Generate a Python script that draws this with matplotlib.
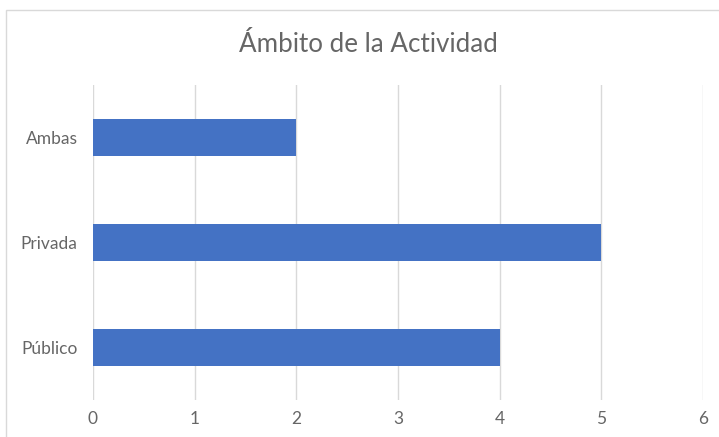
import matplotlib.pyplot as plt
from matplotlib.patches import Rectangle

categorias = ["Público", "Privada", "Ambas"]
valores = [4, 5, 2]
ticks_x = [0, 1, 2, 3, 4, 5, 6]
titulo = "Ámbito de la Actividad"

plt.rcParams['font.family'] = ['Lato', 'DejaVu Sans']
gris = '#666666'

fig = plt.figure(figsize=(7.19, 4.37), dpi=100)
ax = fig.add_axes([93 / 719, 1 - 400 / 437, 610 / 719, 315 / 437])

# borde del area del grafico (recortado a la derecha y abajo)
fig.patches.append(Rectangle((6 / 719, -0.05), 1.1, 1 - 10 / 437 + 0.05,
                             transform=fig.transFigure, fill=False,
                             edgecolor='#D9D9D9', linewidth=1))

ax.barh(range(len(categorias)), valores, height=0.355, color='#4472C4', zorder=3)

ax.set_xlim(0, 6)
ax.set_ylim(-0.5, len(categorias) - 0.5)
ax.set_xticks(ticks_x)
ax.set_yticks(range(len(categorias)))
ax.set_yticklabels(categorias)
ax.grid(axis='x', color='#D9D9D9', linewidth=1, zorder=0)
ax.tick_params(axis='both', length=0, labelsize=12.5, colors=gris)
ax.tick_params(axis='y', pad=11)
ax.tick_params(axis='x', pad=8)
for s in ax.spines.values():
    s.set_visible(False)

fig.text(368 / 719, 1 - 45 / 437, titulo, ha='center', va='center',
         fontsize=18.7, color=gris)

fig.savefig('out.png', dpi=100)
